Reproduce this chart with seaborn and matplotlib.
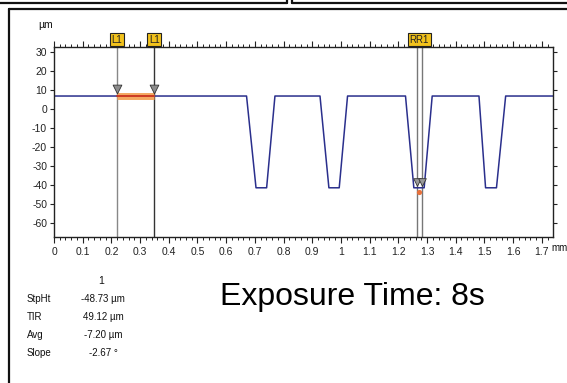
import numpy as np
import pandas as pd
import matplotlib
matplotlib.use("Agg")
import matplotlib.pyplot as plt
import seaborn as sns
from matplotlib.lines import Line2D
from matplotlib.ticker import MultipleLocator

# --- data (mm, µm) ---
prof_x = [0.0, 0.671, 0.704, 0.741, 0.770, 0.927, 0.958, 0.994, 1.023,
          1.225, 1.254, 1.290, 1.318, 1.481, 1.504, 1.542, 1.574, 1.74]
prof_y = [6.8, 6.8, -41.5, -41.5, 6.8, 6.8, -41.5, -41.5, 6.8,
          6.8, -41.5, -41.5, 6.8, 6.8, -41.5, -41.5, 6.8, 6.8]

l1_pos = [0.219, 0.349]
rr1_pos = [1.265, 1.282]
x_ticks = [0, 0.1, 0.2, 0.3, 0.4, 0.5, 0.6, 0.7, 0.8, 0.9, 1.0,
           1.1, 1.2, 1.3, 1.4, 1.5, 1.6, 1.7]
x_tick_labels = ["0", "0.1", "0.2", "0.3", "0.4", "0.5", "0.6", "0.7", "0.8",
                 "0.9", "1", "1.1", "1.2", "1.3", "1.4", "1.5", "1.6", "1.7"]
y_ticks = [30, 20, 10, 0, -10, -20, -30, -40, -50, -60]

stat_names = ["StpHt", "TIR", "Avg", "Slope"]
stat_values = ["-48.73 µm", "49.12 µm", "-7.20 µm", "-2.67 °"]

df = pd.DataFrame({"x": prof_x, "y": prof_y})

sns.set_style("white")
plt.rcParams["font.family"] = ["Liberation Sans", "DejaVu Sans"]
plt.rcParams["axes.unicode_minus"] = False
plt.rcParams["text.color"] = "#111111"
plt.rcParams["xtick.color"] = "#222222"
plt.rcParams["ytick.color"] = "#222222"

fig = plt.figure(figsize=(5.67, 3.83), dpi=100)
ax = fig.add_axes([54 / 567, 1 - 237 / 383, (553 - 54) / 567, (237 - 47) / 383])

sns.lineplot(data=df, x="x", y="y", sort=False, estimator=None,
             color="#2a2f8c", linewidth=1.1, ax=ax)

# cursors
for i, xp in enumerate(l1_pos):
    ax.axvline(xp, color="#888888" if i == 0 else "#333333", lw=1.0, zorder=1)
for xp in rr1_pos:
    ax.axvline(xp, color="#777777", lw=1.0, zorder=1)

# highlighted region between L1 cursors
ax.plot(l1_pos, [6.8, 6.8], color="#f4a860", lw=5, solid_capstyle="butt", zorder=3)
ax.plot(l1_pos, [6.8, 6.8], color="#c8321e", lw=1.3, zorder=4)
ax.scatter(l1_pos, [10.5, 10.5], marker="v", s=40, color="#8c8c8c",
           edgecolor="#333333", linewidth=0.6, zorder=5)
ax.scatter([np.mean(rr1_pos)], [-43.5], marker="o", s=14, color="#e8703a",
           linewidth=0, zorder=5)
ax.scatter(rr1_pos, [-38.5, -38.5], marker="v", s=30, color="#9a9a9a",
           edgecolor="#333333", linewidth=0.6, zorder=5)

# cursor labels
trans = ax.get_xaxis_transform()
for xp in l1_pos:
    ax.text(xp, 1.012, "L1", transform=trans, ha="center", va="bottom",
            fontsize=7, color="#222222",
            bbox=dict(boxstyle="square,pad=0.15", fc="#f2c21c", ec="#222222", lw=0.8))
ax.text(np.mean(rr1_pos), 1.012, "RR1", transform=trans, ha="center", va="bottom",
        fontsize=7, color="#222222",
        bbox=dict(boxstyle="square,pad=0.15", fc="#f2c21c", ec="#222222", lw=0.8))

ax.set_xlim(0, 1.739)
ax.set_ylim(-67.4, 32.6)
ax.set_xticks(x_ticks)
ax.set_xticklabels(x_tick_labels)
ax.set_yticks(y_ticks)
ax.set_yticklabels([str(v) for v in y_ticks])
ax.xaxis.set_minor_locator(MultipleLocator(0.02))
ax.set_xlabel("")
ax.set_ylabel("")

ax.tick_params(axis="x", which="major", direction="out", length=4, width=0.8,
               labelsize=7.5, top=True, bottom=True, pad=3)
ax.tick_params(axis="x", which="minor", direction="out", length=2.5, width=0.7,
               top=True, bottom=True)
ax.tick_params(axis="y", which="major", direction="out", length=3, width=0.8,
               labelsize=7.5, left=True, right=True, pad=2)
for s in ax.spines.values():
    s.set_color("#222222")
    s.set_linewidth(1.0)

fig.text(551 / 567, 1 - 248 / 383, "mm", ha="left", va="center", fontsize=7)
fig.text(38 / 567, 1 - 25 / 383, "µm", ha="left", va="center", fontsize=7.5)

# statistics block
fig.text(101 / 567, 1 - 281 / 383, "1", ha="center", va="center", fontsize=7.5)
for i, (n, v) in enumerate(zip(stat_names, stat_values)):
    yy = 1 - (299 + 18 * i) / 383
    fig.text(27 / 567, yy, n, ha="left", va="center", fontsize=7)
    fig.text(103 / 567, yy, v, ha="center", va="center", fontsize=7)

fig.text(220 / 567, 1 - 297 / 383, "Exposure Time: 8s", ha="left", va="center",
         fontsize=23, color="#000000")

# window frame lines
def fl(x0, y0, x1, y1, lw=1.6, c="#111111"):
    fig.add_artist(Line2D([x0 / 567, x1 / 567], [1 - y0 / 383, 1 - y1 / 383],
                          color=c, lw=lw))

fl(0, 3, 287, 3)
fl(287, 0, 287, 3)
fl(292, 0, 292, 3)
fl(292, 2.5, 567, 2.5)
fl(9, 8.5, 567, 8.5)
fl(9, 8.5, 9, 383)

fig.savefig("out.png", dpi=100)
